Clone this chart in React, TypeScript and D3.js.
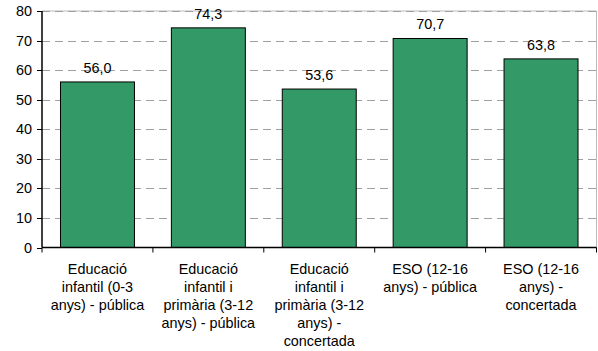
import React from "react";
import * as d3 from "d3";

const categories: string[][] = [
  ["Educació", "infantil (0-3", "anys) - pública"],
  ["Educació", "infantil i", "primària (3-12", "anys) - pública"],
  ["Educació", "infantil i", "primària (3-12", "anys) -", "concertada"],
  ["ESO (12-16", "anys) - pública"],
  ["ESO (12-16", "anys) -", "concertada"],
];
const values: number[] = [56.0, 74.3, 53.6, 70.7, 63.8];
const yTicks: number[] = [0, 10, 20, 30, 40, 50, 60, 70, 80];

export default function App() {
  const W = 598, H = 351;
  const left = 42, right = 596.5, top = 11, bottom = 247.5;
  const x = d3.scaleBand<number>().domain(values.map((_, i) => i)).range([left, right]).paddingInner(0.333).paddingOuter(0.1667);
  const step = x.step();
  const y = d3.scaleLinear().domain([0, 80]).range([bottom, top]);
  const font = "'Liberation Sans', Arial, sans-serif";
  const fs = 14.4;
  const fmt = (v: number) => v.toFixed(1).replace(".", ",");
  return (
    <svg width={W} height={H} style={{ position: "absolute", left: 0, top: 0, background: "#fff" }} fontFamily={font}>
      {/* plot border */}
      <line x1={left} x2={right} y1={top} y2={top} stroke="#bbb" strokeWidth={1} />
      <line x1={right} x2={right} y1={top} y2={bottom} stroke="#bbb" strokeWidth={1} />
      {/* gridlines */}
      {yTicks.filter((t) => t > 0).map((t) => (
        <line key={t} x1={left} x2={right} y1={Math.round(y(t)) + 0.5} y2={Math.round(y(t)) + 0.5} stroke="#a0a0a0" strokeDasharray="8,5" strokeWidth={1} />
      ))}
      {/* bars */}
      {values.map((v, i) => (
        <g key={i}>
          <rect x={x(i)!} y={y(v)} width={x.bandwidth()} height={bottom - y(v)} fill="#339966" stroke="#000" strokeWidth={1} />
          <text x={x(i)! + x.bandwidth() / 2} y={y(v) - 9} textAnchor="middle" fontSize={fs} fill="#000">{fmt(v)}</text>
        </g>
      ))}
      {/* y axis */}
      <line x1={left} x2={left} y1={top} y2={bottom} stroke="#000" strokeWidth={1.5} />
      {yTicks.map((t) => (
        <g key={t}>
          <line x1={left - 5} x2={left} y1={Math.round(y(t)) + 0.5} y2={Math.round(y(t)) + 0.5} stroke="#000" />
          <text x={32} y={y(t)} dy="0.35em" textAnchor="end" fontSize={fs} fill="#000">{t}</text>
        </g>
      ))}
      {/* x axis */}
      <line x1={left} x2={right} y1={bottom} y2={bottom} stroke="#000" strokeWidth={1.5} />
      {values.map((_, i) => (
        <line key={"t" + i} x1={x(i)! - (step - x.bandwidth()) / 2} x2={x(i)! - (step - x.bandwidth()) / 2} y1={bottom} y2={bottom + 5} stroke="#000" />
      ))}
      <line x1={right} x2={right} y1={bottom} y2={bottom + 5} stroke="#000" />
      {categories.map((lines, i) => (
        <text key={"c" + i} x={x(i)! + x.bandwidth() / 2} textAnchor="middle" fontSize={fs} fill="#000">
          {lines.map((l, j) => (
            <tspan key={j} x={x(i)! + x.bandwidth() / 2} y={274 + j * 17.9}>{l}</tspan>
          ))}
        </text>
      ))}
    </svg>
  );
}
